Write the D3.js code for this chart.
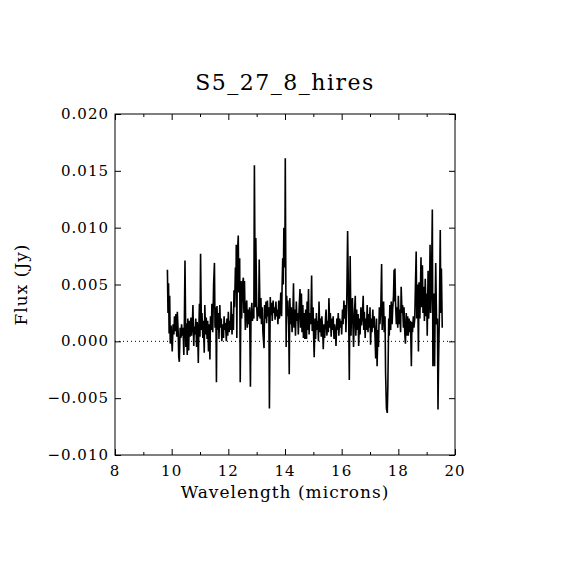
<!DOCTYPE html>
<html>
<head>
<meta charset="utf-8" />
<title>S5_27_8_hires</title>
<script src="https://d3js.org/d3.v7.min.js"></script>
<style>
    body { margin: 0; background: white; }
    svg text { font-family: "DejaVu Serif", "Liberation Serif", serif; fill: black; }
    .tick-label { font-size: 15px; letter-spacing: 1px; }
    .axis-title { font-size: 17px; letter-spacing: 1px; }
    .chart-title { font-size: 22px; letter-spacing: 1.5px; }
</style>
</head>
<body>
<div id="chart"></div>
<script>
// spectrum, wavelength in microns, flux in mJy
var wavelength = [
 9.85, 9.87, 9.89, 9.91, 9.93, 9.95, 9.98, 10.00, 10.02, 10.05, 10.08, 10.10, 10.13, 10.15, 10.18, 10.20,
 10.23, 10.25, 10.27, 10.30, 10.33, 10.35, 10.38, 10.40, 10.43, 10.45, 10.47, 10.50, 10.52, 10.55, 10.57, 10.60,
 10.62, 10.65, 10.68, 10.70, 10.73, 10.75, 10.78, 10.80, 10.83, 10.85, 10.88, 10.90, 10.92, 10.94, 10.96, 10.98,
 11.00, 11.02, 11.05, 11.07, 11.10, 11.12, 11.15, 11.17, 11.20, 11.22, 11.25, 11.27, 11.30, 11.32, 11.35, 11.37,
 11.40, 11.42, 11.45, 11.48, 11.51, 11.53, 11.56, 11.58, 11.60, 11.62, 11.65, 11.67, 11.70, 11.72, 11.75, 11.77,
 11.80, 11.83, 11.85, 11.88, 11.90, 11.93, 11.95, 11.98, 12.00, 12.03, 12.05, 12.08, 12.10, 12.13, 12.15, 12.18,
 12.20, 12.22, 12.25, 12.27, 12.28, 12.30, 12.32, 12.35, 12.37, 12.40, 12.42, 12.45, 12.47, 12.50, 12.53, 12.55,
 12.57, 12.60, 12.62, 12.65, 12.67, 12.70, 12.73, 12.75, 12.78, 12.80, 12.83, 12.85, 12.88, 12.90, 12.92, 12.95,
 12.97, 13.00, 13.02, 13.05, 13.07, 13.09, 13.12, 13.15, 13.17, 13.20, 13.22, 13.26, 13.28, 13.30, 13.33, 13.35,
 13.38, 13.40, 13.43, 13.45, 13.48, 13.50, 13.53, 13.55, 13.58, 13.60, 13.63, 13.65, 13.68, 13.70, 13.73, 13.75,
 13.78, 13.80, 13.83, 13.85, 13.88, 13.90, 13.92, 13.94, 13.96, 13.98, 14.00, 14.01, 14.04, 14.06, 14.08, 14.10,
 14.13, 14.15, 14.17, 14.20, 14.22, 14.25, 14.28, 14.30, 14.32, 14.35, 14.37, 14.40, 14.42, 14.45, 14.47, 14.50,
 14.53, 14.55, 14.58, 14.60, 14.63, 14.65, 14.68, 14.70, 14.73, 14.76, 14.78, 14.80, 14.83, 14.85, 14.88, 14.91,
 14.94, 14.96, 14.99, 15.01, 15.03, 15.06, 15.08, 15.11, 15.13, 15.16, 15.18, 15.20, 15.23, 15.25, 15.28, 15.30,
 15.33, 15.35, 15.38, 15.40, 15.43, 15.45, 15.48, 15.50, 15.53, 15.55, 15.58, 15.60, 15.63, 15.65, 15.68, 15.70,
 15.73, 15.75, 15.78, 15.80, 15.83, 15.85, 15.88, 15.90, 15.93, 15.95, 15.98, 16.00, 16.03, 16.05, 16.08, 16.10,
 16.13, 16.15, 16.18, 16.21, 16.24, 16.27, 16.30, 16.33, 16.35, 16.38, 16.40, 16.42, 16.45, 16.48, 16.50, 16.53,
 16.55, 16.58, 16.60, 16.63, 16.65, 16.68, 16.70, 16.73, 16.76, 16.78, 16.80, 16.83, 16.85, 16.88, 16.90, 16.93,
 16.95, 16.98, 17.00, 17.02, 17.05, 17.07, 17.10, 17.12, 17.15, 17.18, 17.20, 17.23, 17.25, 17.28, 17.30, 17.33,
 17.35, 17.38, 17.41, 17.43, 17.45, 17.48, 17.50, 17.53, 17.55, 17.58, 17.61, 17.63, 17.66, 17.68, 17.70, 17.73,
 17.75, 17.78, 17.80, 17.83, 17.85, 17.87, 17.88, 17.90, 17.93, 17.95, 17.98, 18.00, 18.03, 18.05, 18.08, 18.10,
 18.13, 18.15, 18.18, 18.20, 18.23, 18.25, 18.28, 18.30, 18.33, 18.35, 18.38, 18.40, 18.43, 18.46, 18.48, 18.50,
 18.53, 18.55, 18.58, 18.60, 18.63, 18.65, 18.68, 18.71, 18.73, 18.76, 18.78, 18.80, 18.82, 18.85, 18.87, 18.90,
 18.92, 18.95, 18.98, 19.00, 19.02, 19.05, 19.07, 19.10, 19.12, 19.14, 19.17, 19.20, 19.22, 19.25, 19.28, 19.30,
 19.32, 19.35, 19.38, 19.40, 19.42, 19.45, 19.48, 19.50, 19.52, 19.55
];

var fluxMJy = [
 6.3, 2.5, 5.1, 0.7, 4.0, -0.2, 1.4, 0.2, -0.9, 1.5, 0.6, 2.2, 0.9, 2.4, 0.4, 2.6,
 0.8, -1.4, -1.8, 1.2, 0.3, 1.5, 0.5, 1.2, -1.2, 2.0, 7.1, -0.5, 1.6, -1.2, 2.0, -0.8,
 1.8, 0.4, 2.1, 0.5, 1.4, 3.2, -0.4, 1.3, 0.6, 2.0, -0.5, 1.7, 0.8, -1.9, 1.2, 3.3,
 0.4, 7.7, 1.0, 2.5, 0.3, 1.8, -1.0, 3.2, 0.6, 2.1, 0.2, 1.8, -0.9, 1.5, -1.6, 2.2,
 1.0, 3.3, 0.8, 5.0, 6.9, 1.2, 3.0, -3.6, 3.1, 1.0, 2.5, 0.2, 3.2, 1.2, 2.0, 0.0,
 1.5, 0.3, 2.2, 1.0, 1.6, 0.0, 2.0, 0.5, 2.6, 0.8, 1.8, 1.0, 3.5, 0.6, 2.4, 1.0,
 4.5, 3.0, 6.5, 5.0, 8.5, 0.3, 7.5, 9.3, 4.3, 7.3, -3.6, 5.3, 2.0, 5.0, 5.6, 2.5,
 5.3, 1.0, 3.0, 3.6, 1.2, 2.8, 1.5, 3.0, -4.0, 2.2, 3.4, 1.8, 2.8, 2.0, 15.5, 3.0,
 9.1, 3.3, 1.8, 3.0, 2.2, 7.2, 2.0, 3.8, 1.5, 3.0, 0.8, -0.6, 3.2, 2.0, 3.5, 1.6,
 3.6, 2.2, 3.0, -5.9, 3.9, 2.3, 3.4, 1.8, 3.6, 2.5, 3.0, 1.9, 3.5, 2.2, 2.8, 1.5,
 3.6, 2.0, 2.6, 4.3, 2.2, 5.2, 7.3, 5.0, 10.0, 6.5, 10.0, 16.1, -0.5, 4.0, 2.2, 3.6,
 1.4, -2.9, 3.8, 1.5, 3.0, 0.8, 2.6, 5.1, 1.2, 2.8, 0.5, 3.5, 1.8, 2.5, 0.6, 3.0,
 4.6, 1.2, 4.2, 0.8, 3.2, 0.3, 2.5, 0.2, 2.8, 0.2, 3.5, 1.0, 4.6, 0.6, 2.5, 1.5,
 5.8, 0.9, 3.0, 0.5, -1.4, 2.0, 0.2, 2.5, 1.0, 1.8, 0.0, 3.5, 0.8, 2.0, 0.4, 2.2,
 1.0, -0.7, 1.5, 0.3, 2.0, 2.8, 0.5, 1.8, 0.8, 3.8, 1.2, 2.5, 0.4, 2.0, 1.0, 2.2,
 0.2, 1.5, 0.8, -0.4, 2.0, 1.0, 2.5, 0.5, 2.0, 1.2, 1.8, 0.6, 2.8, 1.5, 3.6, 2.0,
 3.2, 0.8, 3.5, 9.7, 4.0, -3.4, 7.5, 0.5, 3.0, 3.8, 1.2, -0.5, 2.5, 4.0, 0.5, 2.8,
 1.0, 2.4, -0.4, 2.0, 0.6, 3.0, 1.4, 2.2, 4.0, 1.0, 2.6, 0.3, 2.0, 1.0, 3.2, 0.8,
 2.4, 1.2, 3.0, -0.3, 2.0, 0.8, 2.8, 1.2, 2.2, 0.2, -1.5, 2.0, -2.2, 1.0, -0.5, 3.0,
 1.5, 2.8, 6.8, 1.0, 2.5, 3.5, 0.8, 2.2, -2.8, -5.9, -6.3, -4.0, 2.0, 0.5, 3.2, 1.0,
 3.5, 1.5, 2.8, 4.0, 6.3, 3.5, 6.4, 3.5, 1.5, 3.0, 1.2, 4.0, 1.5, 2.8, 0.8, 4.8,
 2.5, 3.2, 1.2, 3.0, 0.6, -0.2, 2.5, 0.5, 2.2, 0.5, 2.0, 0.8, 1.8, -2.2, 1.7, 0.8,
 2.2, 1.2, 2.0, 4.5, 7.9, 2.0, 5.0, -0.9, 5.2, 2.0, 4.5, 7.4, 3.0, 6.7, 2.5, 4.8,
 1.8, 5.5, 2.2, 4.2, 0.5, 6.2, 2.0, 4.0, 8.5, 2.5, 5.0, 11.6, -2.2, 4.2, -2.2, 3.0,
 6.9, 1.5, 2.0, -6.0, -1.8, 2.6, 9.8, 2.5, 6.4, 1.2
];

var xTicks = [8, 10, 12, 14, 16, 18, 20];
var xMinorTicks = [9, 11, 13, 15, 17, 19];
var yTicks = [-0.010, -0.005, 0.000, 0.005, 0.010, 0.015, 0.020];

var W = 570, H = 570;
var margin = {top: 114, right: 115, bottom: 115, left: 115};
var width = W - margin.left - margin.right,
    height = H - margin.top - margin.bottom;

var svg = d3.select("#chart").append("svg")
    .attr("width", W)
    .attr("height", H);

var g = svg.append("g")
    .attr("transform", "translate(" + margin.left + "," + margin.top + ")");

var x = d3.scaleLinear().domain([8, 20]).range([0, width]);
var y = d3.scaleLinear().domain([-0.010, 0.020]).range([height, 0]);

var data = wavelength.map(function(w, i) { return {w: w, f: fluxMJy[i] / 1000}; });

// zero level
g.append("line")
    .attr("x1", 0).attr("x2", width)
    .attr("y1", y(0)).attr("y2", y(0))
    .attr("stroke", "black")
    .attr("stroke-width", 1)
    .attr("stroke-dasharray", "1,3");

// spectrum
var line = d3.line()
    .x(function(d) { return x(d.w); })
    .y(function(d) { return y(d.f); });

g.append("path")
    .datum(data)
    .attr("fill", "none")
    .attr("stroke", "black")
    .attr("stroke-width", 1.6)
    .attr("stroke-linejoin", "bevel")
    .attr("d", line);

// inward ticks on all four sides
function tickAxis(axis, size) {
    return axis.tickSizeInner(size).tickSizeOuter(0).tickFormat("");
}
var minus = function(v) { return d3.format(".3f")(v).replace("-", "\u2212"); };

g.append("g").attr("transform", "translate(0," + height + ")")
    .call(tickAxis(d3.axisTop(x).tickValues(xTicks), 6));
g.append("g").attr("transform", "translate(0," + height + ")")
    .call(tickAxis(d3.axisTop(x).tickValues(xMinorTicks), 3));
g.append("g")
    .call(tickAxis(d3.axisBottom(x).tickValues(xTicks), 6));
g.append("g")
    .call(tickAxis(d3.axisBottom(x).tickValues(xMinorTicks), 3));
g.append("g")
    .call(tickAxis(d3.axisRight(y).tickValues(yTicks), 6));
g.append("g").attr("transform", "translate(" + width + ",0)")
    .call(tickAxis(d3.axisLeft(y).tickValues(yTicks), 6));

g.selectAll(".domain").remove();
g.selectAll(".tick line").attr("stroke", "black").attr("stroke-width", 1);

// frame
g.append("rect")
    .attr("width", width).attr("height", height)
    .attr("fill", "none").attr("stroke", "black").attr("stroke-width", 1);

// tick labels
g.selectAll(".xlab").data(xTicks).enter().append("text")
    .attr("class", "tick-label")
    .attr("x", function(d) { return x(d); })
    .attr("y", height + 21)
    .attr("text-anchor", "middle")
    .text(function(d) { return d; });

g.selectAll(".ylab").data(yTicks).enter().append("text")
    .attr("class", "tick-label")
    .attr("x", -6)
    .attr("y", function(d) { return y(d) + 5; })
    .attr("text-anchor", "end")
    .text(minus);

// titles
svg.append("text").attr("class", "chart-title")
    .attr("x", margin.left + width / 2).attr("y", 90)
    .attr("text-anchor", "middle")
    .text("S5_27_8_hires");

svg.append("text").attr("class", "axis-title")
    .attr("x", margin.left + width / 2).attr("y", 498)
    .attr("text-anchor", "middle")
    .text("Wavelength (microns)");

svg.append("text").attr("class", "axis-title")
    .attr("transform", "translate(27," + (margin.top + height / 2) + ") rotate(-90)")
    .attr("text-anchor", "middle")
    .text("Flux (Jy)");
</script>
</body>
</html>
